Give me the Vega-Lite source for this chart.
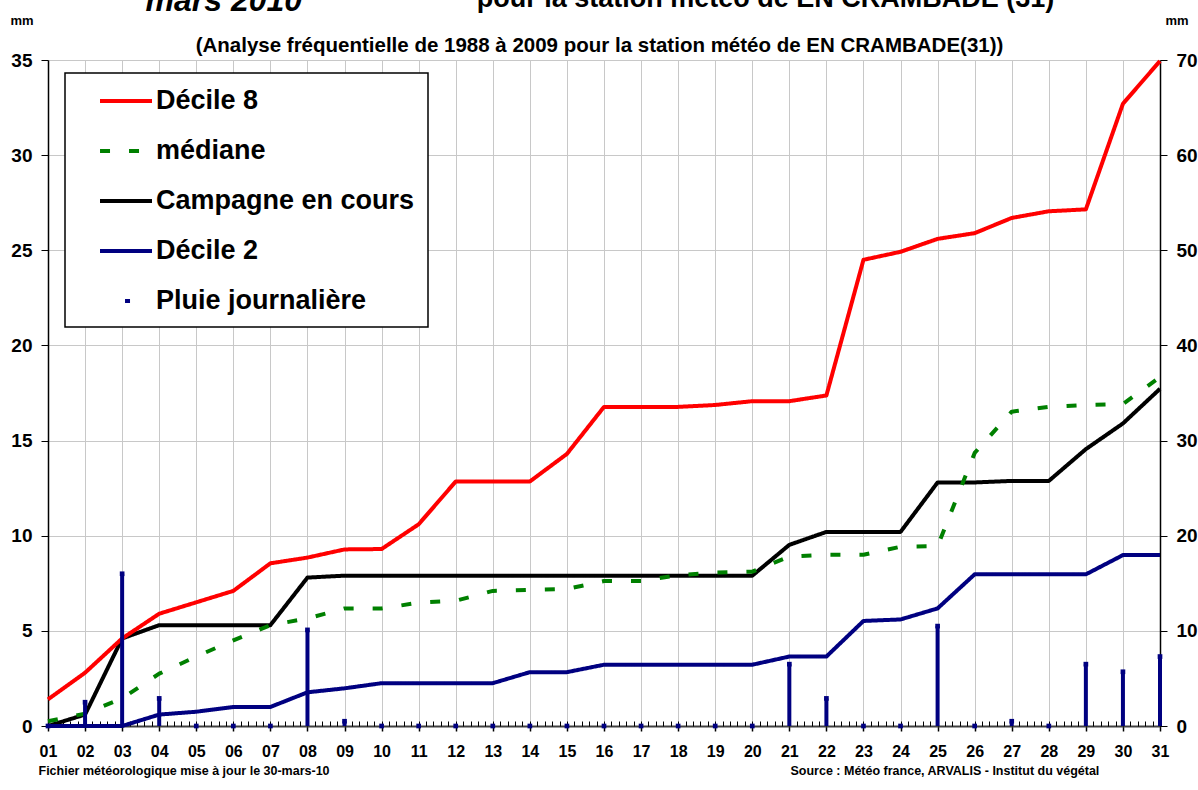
{
  "$schema": "https://vega.github.io/schema/vega-lite/v6.json",
  "autosize": {"type": "none"},
  "width": 1112,
  "height": 666,
  "padding": {"left": 48, "top": 60, "right": 38, "bottom": 64},
  "background": "white",
  "title": null,
  "datasets": {
    "jours": [
      {"jour": 1, "Décile 8": 1.4, "médiane": 0.25, "Campagne en cours": 0, "Décile 2": 0, "Pluie journalière": 0},
      {"jour": 2, "Décile 8": 2.8, "médiane": 0.65, "Campagne en cours": 0.6, "Décile 2": 0, "Pluie journalière": 2.5},
      {"jour": 3, "Décile 8": 4.6, "médiane": 1.45, "Campagne en cours": 4.6, "Décile 2": 0, "Pluie journalière": 16.0},
      {"jour": 4, "Décile 8": 5.9, "médiane": 2.75, "Campagne en cours": 5.3, "Décile 2": 0.6, "Pluie journalière": 2.9},
      {"jour": 5, "Décile 8": 6.5, "médiane": 3.65, "Campagne en cours": 5.3, "Décile 2": 0.75, "Pluie journalière": 0},
      {"jour": 6, "Décile 8": 7.1, "médiane": 4.5, "Campagne en cours": 5.3, "Décile 2": 1.0, "Pluie journalière": 0},
      {"jour": 7, "Décile 8": 8.55, "médiane": 5.3, "Campagne en cours": 5.3, "Décile 2": 1.0, "Pluie journalière": 0},
      {"jour": 8, "Décile 8": 8.85, "médiane": 5.65, "Campagne en cours": 7.8, "Décile 2": 1.77, "Pluie journalière": 10.1},
      {"jour": 9, "Décile 8": 9.28, "médiane": 6.18, "Campagne en cours": 7.9, "Décile 2": 1.98, "Pluie journalière": 0.5},
      {"jour": 10, "Décile 8": 9.3, "médiane": 6.18, "Campagne en cours": 7.9, "Décile 2": 2.25, "Pluie journalière": 0},
      {"jour": 11, "Décile 8": 10.6, "médiane": 6.48, "Campagne en cours": 7.9, "Décile 2": 2.25, "Pluie journalière": 0},
      {"jour": 12, "Décile 8": 12.85, "médiane": 6.58, "Campagne en cours": 7.9, "Décile 2": 2.25, "Pluie journalière": 0},
      {"jour": 13, "Décile 8": 12.85, "médiane": 7.1, "Campagne en cours": 7.9, "Décile 2": 2.25, "Pluie journalière": 0},
      {"jour": 14, "Décile 8": 12.85, "médiane": 7.15, "Campagne en cours": 7.9, "Décile 2": 2.83, "Pluie journalière": 0},
      {"jour": 15, "Décile 8": 14.3, "médiane": 7.2, "Campagne en cours": 7.9, "Décile 2": 2.83, "Pluie journalière": 0},
      {"jour": 16, "Décile 8": 16.77, "médiane": 7.62, "Campagne en cours": 7.9, "Décile 2": 3.22, "Pluie journalière": 0},
      {"jour": 17, "Décile 8": 16.77, "médiane": 7.62, "Campagne en cours": 7.9, "Décile 2": 3.22, "Pluie journalière": 0},
      {"jour": 18, "Décile 8": 16.77, "médiane": 7.93, "Campagne en cours": 7.9, "Décile 2": 3.22, "Pluie journalière": 0},
      {"jour": 19, "Décile 8": 16.87, "médiane": 8.06, "Campagne en cours": 7.9, "Décile 2": 3.22, "Pluie journalière": 0},
      {"jour": 20, "Décile 8": 17.07, "médiane": 8.11, "Campagne en cours": 7.9, "Décile 2": 3.22, "Pluie journalière": 0},
      {"jour": 21, "Décile 8": 17.07, "médiane": 8.9, "Campagne en cours": 9.52, "Décile 2": 3.65, "Pluie journalière": 6.5},
      {"jour": 22, "Décile 8": 17.37, "médiane": 9.0, "Campagne en cours": 10.2, "Décile 2": 3.65, "Pluie journalière": 2.9},
      {"jour": 23, "Décile 8": 24.5, "médiane": 9.0, "Campagne en cours": 10.2, "Décile 2": 5.52, "Pluie journalière": 0},
      {"jour": 24, "Décile 8": 24.92, "médiane": 9.42, "Campagne en cours": 10.2, "Décile 2": 5.6, "Pluie journalière": 0},
      {"jour": 25, "Décile 8": 25.6, "médiane": 9.45, "Campagne en cours": 12.8, "Décile 2": 6.18, "Pluie journalière": 10.5},
      {"jour": 26, "Décile 8": 25.9, "médiane": 14.35, "Campagne en cours": 12.8, "Décile 2": 7.97, "Pluie journalière": 0},
      {"jour": 27, "Décile 8": 26.7, "médiane": 16.52, "Campagne en cours": 12.88, "Décile 2": 7.97, "Pluie journalière": 0.5},
      {"jour": 28, "Décile 8": 27.05, "médiane": 16.77, "Campagne en cours": 12.88, "Décile 2": 7.97, "Pluie journalière": 0},
      {"jour": 29, "Décile 8": 27.15, "médiane": 16.87, "Campagne en cours": 14.55, "Décile 2": 7.97, "Pluie journalière": 6.5},
      {"jour": 30, "Décile 8": 32.7, "médiane": 16.92, "Campagne en cours": 15.9, "Décile 2": 8.98, "Pluie journalière": 5.7},
      {"jour": 31, "Décile 8": 34.95, "médiane": 18.34, "Campagne en cours": 17.72, "Décile 2": 8.98, "Pluie journalière": 7.3}
    ]
  },
  "data": {"name": "jours"},
  "layer": [
    {
      "transform": [{"fold": ["Campagne en cours"], "as": ["serie", "valeur"]}],
      "mark": {"type": "line", "strokeWidth": 4, "strokeJoin": "round"},
      "encoding": {
        "x": {"field": "jour", "type": "quantitative", "scale": {"domain": [1, 31], "nice": false, "zero": false},
          "axis": {"orient": "top", "labels": false, "ticks": false, "domain": false, "grid": false,
            "title": "pour la station météo de EN CRAMBADE (31)", "titleX": 717, "titleY": -54, "titleAlign": "center", "titleBaseline": "alphabetic", "titleFontSize": 27}},
        "y": {"field": "valeur", "type": "quantitative", "scale": {"domain": [0, 35], "nice": false},
          "axis": {"orient": "left", "labels": false, "ticks": false, "domain": false, "grid": false,
            "title": "mars 2010", "titleAngle": 0, "titleX": 97, "titleY": -50, "titleAlign": "left", "titleBaseline": "alphabetic", "titleFontSize": 32, "titleFontStyle": "italic"}},
        "color": {"field": "serie", "type": "nominal",
          "scale": {"domain": ["Décile 8", "médiane", "Campagne en cours", "Décile 2", "Pluie journalière"], "range": ["#ff0000", "#008000", "#000000", "#000080", "#000080"]},
          "legend": {"orient": "none", "legendX": 17, "legendY": 13, "title": null, "padding": 13, "fillColor": "white", "strokeColor": "black", "symbolType": "M0.54,0H4.54", "symbolSize": 676, "symbolStrokeWidth": 4, "labelFontSize": 27, "labelOffset": 48, "labelLimit": 500, "rowPadding": 22, "labelExpr": "datum.label + '\u00a0\u00a0\u00a0'"}},
        "strokeDash": {"field": "serie", "type": "nominal",
          "scale": {"domain": ["Décile 8", "médiane", "Campagne en cours", "Décile 2", "Pluie journalière"], "range": [[1, 0], [10, 19], [1, 0], [1, 0], [0.001, 25, 5, 100]]},
          "legend": {"orient": "none", "legendX": 17, "legendY": 13, "title": null, "padding": 13, "fillColor": "white", "strokeColor": "black", "symbolType": "M0.54,0H4.54", "symbolSize": 676, "symbolStrokeWidth": 4, "labelFontSize": 27, "labelOffset": 48, "labelLimit": 500, "rowPadding": 22, "labelExpr": "datum.label + '\u00a0\u00a0\u00a0'"}}
      }
    },
    {
      "transform": [{"fold": ["Décile 8", "médiane", "Décile 2"], "as": ["serie", "valeur"]}],
      "mark": {"type": "line", "strokeWidth": 4, "strokeJoin": "round"},
      "encoding": {
        "x": {"field": "jour", "type": "quantitative", "scale": {"domain": [1, 31], "nice": false, "zero": false},
          "axis": {"orient": "bottom", "tickCount": 30, "format": "02d", "labelFontSize": 16, "labelPadding": 12, "labelFlush": false, "labelOverlap": false,
            "tickSize": 5, "tickWidth": 1.5, "domainColor": "#404040", "domainWidth": 2, "grid": true,
            "title": "Fichier météorologique mise à jour le 30-mars-10", "titleX": -10, "titleY": 44, "titleAlign": "left", "titleBaseline": "middle", "titleFontSize": 12.5}},
        "y": {"field": "valeur", "type": "quantitative", "scale": {"domain": [0, 35], "nice": false},
          "axis": {"orient": "left", "tickCount": 7, "labelFontSize": 19, "tickSize": 7, "labelPadding": 9, "domainWidth": 1.5, "grid": true,
            "title": "mm", "titleAngle": 0, "titleX": -38, "titleY": -40, "titleAlign": "left", "titleBaseline": "middle", "titleFontSize": 13}},
        "color": {"field": "serie", "type": "nominal",
          "scale": {"domain": ["Décile 8", "médiane", "Campagne en cours", "Décile 2", "Pluie journalière"], "range": ["#ff0000", "#008000", "#000000", "#000080", "#000080"]},
          "legend": {"orient": "none", "legendX": 17, "legendY": 13, "title": null, "padding": 13, "fillColor": "white", "strokeColor": "black", "symbolType": "M0.54,0H4.54", "symbolSize": 676, "symbolStrokeWidth": 4, "labelFontSize": 27, "labelOffset": 48, "labelLimit": 500, "rowPadding": 22, "labelExpr": "datum.label + '\u00a0\u00a0\u00a0'"}},
        "strokeDash": {"field": "serie", "type": "nominal",
          "scale": {"domain": ["Décile 8", "médiane", "Campagne en cours", "Décile 2", "Pluie journalière"], "range": [[1, 0], [10, 19], [1, 0], [1, 0], [0.001, 25, 5, 100]]},
          "legend": {"orient": "none", "legendX": 17, "legendY": 13, "title": null, "padding": 13, "fillColor": "white", "strokeColor": "black", "symbolType": "M0.54,0H4.54", "symbolSize": 676, "symbolStrokeWidth": 4, "labelFontSize": 27, "labelOffset": 48, "labelLimit": 500, "rowPadding": 22, "labelExpr": "datum.label + '\u00a0\u00a0\u00a0'"}}
      }
    },
    {
      "transform": [{"fold": ["Pluie journalière"], "as": ["serie", "valeur"]}],
      "mark": {"type": "rule", "strokeWidth": 4, "strokeCap": "butt"},
      "encoding": {
        "x": {"field": "jour", "type": "quantitative", "scale": {"domain": [1, 31], "nice": false, "zero": false},
          "axis": {"orient": "bottom", "tickCount": 150, "labels": false, "grid": false, "domain": false, "tickSize": -5, "tickWidth": 1,
            "title": "Source : Météo france, ARVALIS - Institut du végétal", "titleX": 742, "titleY": 44, "titleAlign": "left", "titleBaseline": "middle", "titleFontSize": 12.5}},
        "y": {"field": "valeur", "type": "quantitative", "scale": {"domain": [0, 70], "nice": false},
          "axis": {"orient": "right", "tickCount": 7, "labelFontSize": 19, "tickSize": 7, "labelPadding": 9, "domainWidth": 1.5, "grid": false,
            "title": "mm", "titleAngle": 0, "titleX": 5, "titleY": -40, "titleAlign": "left", "titleBaseline": "middle", "titleFontSize": 13}},
        "y2": {"datum": 0},
        "color": {"field": "serie", "type": "nominal",
          "scale": {"domain": ["Décile 8", "médiane", "Campagne en cours", "Décile 2", "Pluie journalière"], "range": ["#ff0000", "#008000", "#000000", "#000080", "#000080"]},
          "legend": {"orient": "none", "legendX": 17, "legendY": 13, "title": null, "padding": 13, "fillColor": "white", "strokeColor": "black", "symbolType": "M0.54,0H4.54", "symbolSize": 676, "symbolStrokeWidth": 4, "labelFontSize": 27, "labelOffset": 48, "labelLimit": 500, "rowPadding": 22, "labelExpr": "datum.label + '\u00a0\u00a0\u00a0'"}}
      }
    },
    {
      "transform": [{"fold": ["Pluie journalière"], "as": ["serie", "valeur"]}],
      "mark": {"type": "point", "shape": "square", "filled": true, "size": 22, "opacity": 1},
      "encoding": {
        "x": {"field": "jour", "type": "quantitative", "scale": {"domain": [1, 31], "nice": false, "zero": false},
          "axis": {"orient": "top", "labels": false, "ticks": false, "domain": false, "grid": false,
            "title": "(Analyse fréquentielle de 1988 à 2009 pour la station météo de EN CRAMBADE(31))", "titleX": 551, "titleY": -15, "titleAlign": "center", "titleBaseline": "middle", "titleFontSize": 20.5}},
        "y": {"field": "valeur", "type": "quantitative", "scale": {"domain": [0, 70], "nice": false}, "axis": null},
        "color": {"field": "serie", "type": "nominal",
          "scale": {"domain": ["Décile 8", "médiane", "Campagne en cours", "Décile 2", "Pluie journalière"], "range": ["#ff0000", "#008000", "#000000", "#000080", "#000080"]},
          "legend": {"orient": "none", "legendX": 17, "legendY": 13, "title": null, "padding": 13, "fillColor": "white", "strokeColor": "black", "symbolType": "M0.54,0H4.54", "symbolSize": 676, "symbolStrokeWidth": 4, "labelFontSize": 27, "labelOffset": 48, "labelLimit": 500, "rowPadding": 22, "labelExpr": "datum.label + '\u00a0\u00a0\u00a0'"}}
      }
    }
  ],
  "resolve": {"scale": {"x": "independent", "y": "independent"}},
  "config": {
    "view": {"stroke": null},
    "font": "Liberation Sans",
    "axis": {
      "labelFont": "Liberation Sans", "labelFontWeight": "bold", "labelColor": "#000000",
      "titleFont": "Liberation Sans", "titleFontWeight": "bold", "titleColor": "#000000",
      "gridColor": "#c8c8c8", "gridWidth": 1, "tickColor": "#000000", "domainColor": "#000000"
    },
    "legend": {
      "labelFont": "Liberation Sans", "labelFontWeight": "bold", "labelColor": "#000000",
      "strokeWidth": 1.5
    }
  }
}
